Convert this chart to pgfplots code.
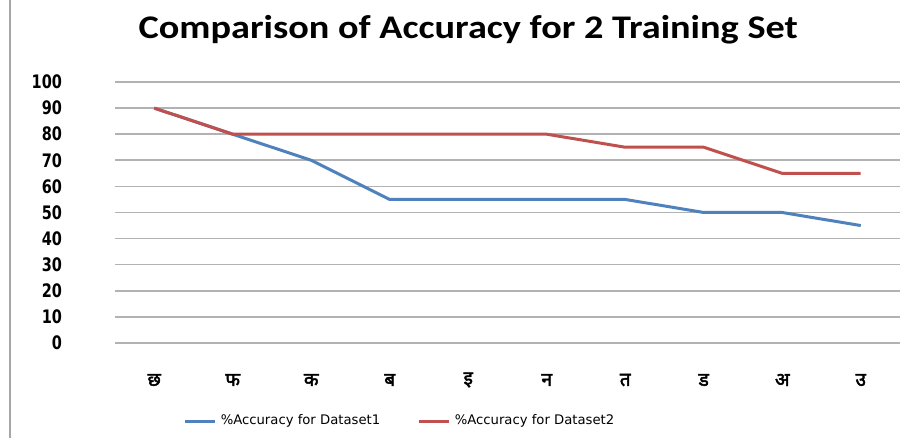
\documentclass[border=0pt]{standalone}
\usepackage{fontspec}
\usepackage{pgfplots}
\pgfplotsset{compat=1.18}
\setmainfont{DejaVu Sans}
\newfontfamily\tickfont[FakeStretch=0.78]{DejaVu Sans}
\newfontfamily\titlefont[FakeStretch=1.16]{Carlito}
\newfontfamily\devfont[Script=Devanagari, FakeBold=2.5]{Noto Sans}
\definecolor{xlblue}{HTML}{4F81BD}
\definecolor{xlred}{HTML}{C0504D}
\begin{document}
\begin{tikzpicture}
\begin{axis}[
  at={(0,0)}, anchor=south west,
  scale only axis,
  width=392.5bp, height=130.5bp,
  xmin=-0.5, xmax=9.5, ymin=0, ymax=100,
  axis line style={draw=none},
  ytick={0,10,...,100},
  xtick={0,...,9},
  xticklabels={छ,फ,क,ब,इ,न,त,ड,अ,उ},
  major tick length=0pt,
  ymajorgrids,
  grid style={gray!60, line width=0.8bp},
  /pgf/number format/assume math mode=true,
  yticklabel style={font=\tickfont\bfseries\fontsize{9.3bp}{10bp}\selectfont, anchor=east, xshift=-23bp},
  xticklabel style={font=\devfont\fontsize{9.5bp}{10bp}\selectfont, anchor=center, yshift=-18.5bp},
  title={\titlefont\bfseries\fontsize{16.5bp}{18bp}\selectfont Comparison of Accuracy for 2 Training Set},
  title style={at={(0.45,1)}, anchor=center, yshift=20bp},
  legend columns=2,
  legend style={draw=none, at={(0.08,-0.3)}, anchor=west,
    font=\fontsize{6.6bp}{7.5bp}\selectfont,
    /tikz/every even column/.append style={column sep=17bp}},
  legend image code/.code={\draw[#1, line width=1.3bp] (0,0) -- (15bp,0);},
]
\addplot[xlblue, line width=1.5bp] coordinates {
 (0,90) (1,80) (2,70) (3,55) (4,55) (5,55) (6,55) (7,50) (8,50) (9,45)};
\addlegendentry{\%Accuracy for Dataset1}
\addplot[xlred, line width=1.5bp] coordinates {
 (0,90) (1,80) (2,80) (3,80) (4,80) (5,80) (6,75) (7,75) (8,65) (9,65)};
\addlegendentry{\%Accuracy for Dataset2}
\end{axis}
\pgfresetboundingbox
\useasboundingbox (-57.5bp,-47.5bp) rectangle (397bp,171.5bp);
\draw[gray!70, line width=1bp] (-52.5bp,-47.5bp) -- (-52.5bp,171.5bp);
\end{tikzpicture}
\end{document}
